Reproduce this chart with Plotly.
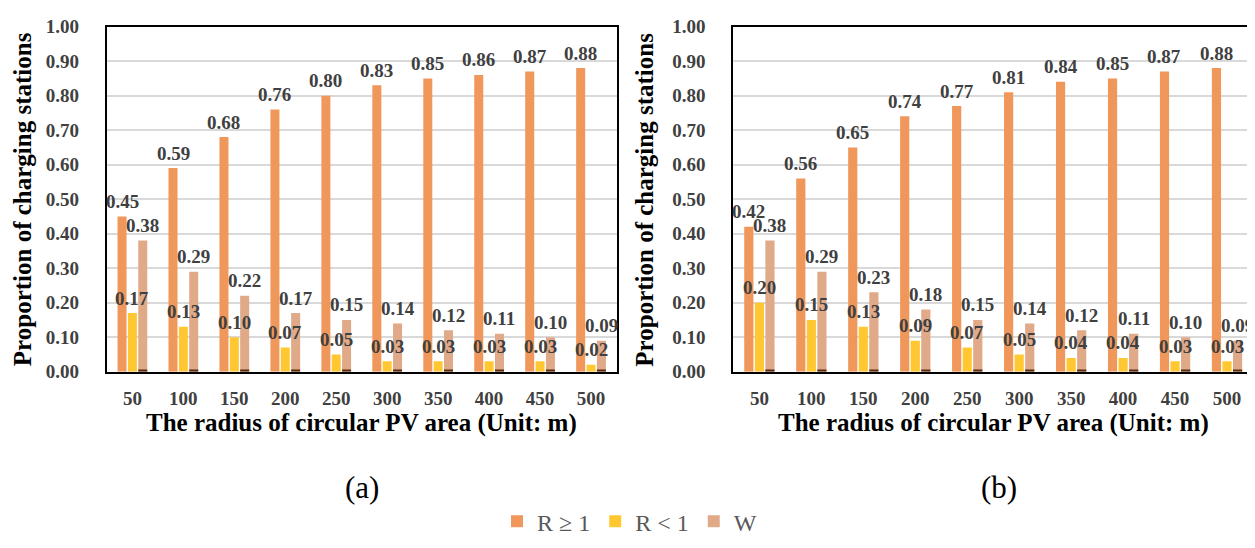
import plotly.graph_objects as go

radii = ["50", "100", "150", "200", "250", "300", "350", "400", "450", "500"]
series_names = ["R ≥ 1", "R &lt; 1", "W"]

a_r_ge1 = [0.45, 0.59, 0.68, 0.76, 0.80, 0.83, 0.85, 0.86, 0.87, 0.88]
a_r_lt1 = [0.17, 0.13, 0.10, 0.07, 0.05, 0.03, 0.03, 0.03, 0.03, 0.02]
a_w = [0.38, 0.29, 0.22, 0.17, 0.15, 0.14, 0.12, 0.11, 0.10, 0.09]

b_r_ge1 = [0.42, 0.56, 0.65, 0.74, 0.77, 0.81, 0.84, 0.85, 0.87, 0.88]
b_r_lt1 = [0.20, 0.15, 0.13, 0.09, 0.07, 0.05, 0.04, 0.04, 0.03, 0.03]
b_w = [0.38, 0.29, 0.23, 0.18, 0.15, 0.14, 0.12, 0.11, 0.10, 0.09]

# thin dark strip seen at the foot of every W bar
w_foot = [0.006, 0.006, 0.006, 0.006, 0.006, 0.006, 0.006, 0.006, 0.006, 0.006]

y_ticks = [0.0, 0.1, 0.2, 0.3, 0.4, 0.5, 0.6, 0.7, 0.8, 0.9, 1.0]

colors = ["#F0975C", "#FFC832", "#E0AA88"]
foot_color = "#5A2D10"
label_color = "#404040"
SERIF = "Liberation Serif"

# the page body adds an 8px margin, so the figure is laid out in page pixels minus 8
OFF = 8
PAGE_W, PAGE_H = 1255, 548
W, H = PAGE_W - OFF, PAGE_H - OFF


def px_x(p):
    return (p - OFF) / W


def px_y(p):
    return 1 - (p - OFF) / H


top_px, bottom_px = 17, 376
panels = [
    dict(x="x", y="y", x0=107, x1=617, data=[a_r_ge1, a_r_lt1, a_w], tag="(a)", tagx=362, ytitle_x=22),
    dict(x="x2", y="y2", x0=734, x1=1254, data=[b_r_ge1, b_r_lt1, b_w], tag="(b)", tagx=1000, ytitle_x=645),
]
pos = list(range(len(radii)))
group_frac = 0.61
bar_frac = 0.87
slot = group_frac / 3

fig = go.Figure()
annotations = []
for pi, p in enumerate(panels):
    for si, vals in enumerate(p["data"]):
        fig.add_trace(go.Bar(
            x=pos, y=vals, name=series_names[si], xaxis=p["x"], yaxis=p["y"],
            width=slot * bar_frac, offset=(si - 1.5) * slot + slot * (1 - bar_frac) / 2,
            marker=dict(color=colors[si], line=dict(width=0)),
            showlegend=(pi == 0), legendgroup=str(si), hoverinfo="skip",
        ))
        for xi, v in zip(pos, vals):
            annotations.append(dict(
                x=xi + (si - 1) * slot, y=v, xref=p["x"], yref=p["y"],
                text=f"<b>{v:.2f}</b>", showarrow=False, yshift=15, yanchor="middle",
                font=dict(family=SERIF, size=19, color=label_color),
            ))
    fig.add_trace(go.Bar(
        x=pos, y=w_foot, xaxis=p["x"], yaxis=p["y"],
        width=slot * bar_frac, offset=0.5 * slot + slot * (1 - bar_frac) / 2,
        marker=dict(color=foot_color, line=dict(width=0)),
        showlegend=False, hoverinfo="skip",
    ))
    annotations.append(dict(
        x=px_x((p["x0"] + p["x1"]) / 2), y=px_y(429), xref="paper", yref="paper",
        text="<b>The radius of circular PV area (Unit: m)</b>", showarrow=False,
        xanchor="center", yanchor="middle",
        font=dict(family=SERIF, size=25, color="black"),
    ))
    annotations.append(dict(
        x=px_x(p["ytitle_x"]), y=px_y((top_px + bottom_px) / 2), xref="paper", yref="paper",
        text="<b>Proportion of charging stations</b>", showarrow=False, textangle=-90,
        xanchor="center", yanchor="middle",
        font=dict(family=SERIF, size=25, color="black"),
    ))
    annotations.append(dict(
        x=px_x(p["tagx"]), y=px_y(497), xref="paper", yref="paper",
        text=p["tag"], showarrow=False, xanchor="center", yanchor="middle",
        font=dict(family=SERIF, size=31, color="black"),
    ))

axis_common_x = dict(
    range=[-0.5, len(radii) - 0.5], tickvals=pos, ticktext=[f"<b>{r}</b>" for r in radii],
    showline=True, linecolor="black", linewidth=2, mirror=True,
    showgrid=False, zeroline=False, ticks="outside", ticklen=9, tickcolor="rgba(0,0,0,0)",
    ticklabeloverflow="allow",
    tickfont=dict(family=SERIF, size=19, color=label_color),
)
axis_common_y = dict(
    range=[0, 1], tickvals=y_ticks, ticktext=[f"<b>{t:.2f}</b>" for t in y_ticks],
    showline=True, linecolor="black",
    linewidth=2, mirror=True, showgrid=True, gridcolor="#D9D9D9", gridwidth=2,
    zeroline=False, ticks="outside", ticklen=22, tickcolor="rgba(0,0,0,0)",
    ticklabeloverflow="allow",
    tickfont=dict(family=SERIF, size=19, color=label_color),
)
ydom = [px_y(bottom_px), px_y(top_px)]

fig.update_layout(
    width=W, height=H, margin=dict(l=0, r=0, t=0, b=0),
    paper_bgcolor="white", plot_bgcolor="white",
    barmode="overlay",
    xaxis=dict(domain=[px_x(panels[0]["x0"]), px_x(panels[0]["x1"])], anchor="y", **axis_common_x),
    yaxis=dict(domain=ydom, anchor="x", **axis_common_y),
    xaxis2=dict(domain=[px_x(panels[1]["x0"]), min(1.0, px_x(panels[1]["x1"]))], anchor="y2", **axis_common_x),
    yaxis2=dict(domain=ydom, anchor="x2", **axis_common_y),
    legend=dict(orientation="h", x=px_x(630), xanchor="center", y=px_y(532), yanchor="middle",
                font=dict(family=SERIF, size=24, color="#595959"), itemwidth=30,
                bgcolor="rgba(0,0,0,0)"),
    annotations=annotations,
)

fig.write_html("out.html")
